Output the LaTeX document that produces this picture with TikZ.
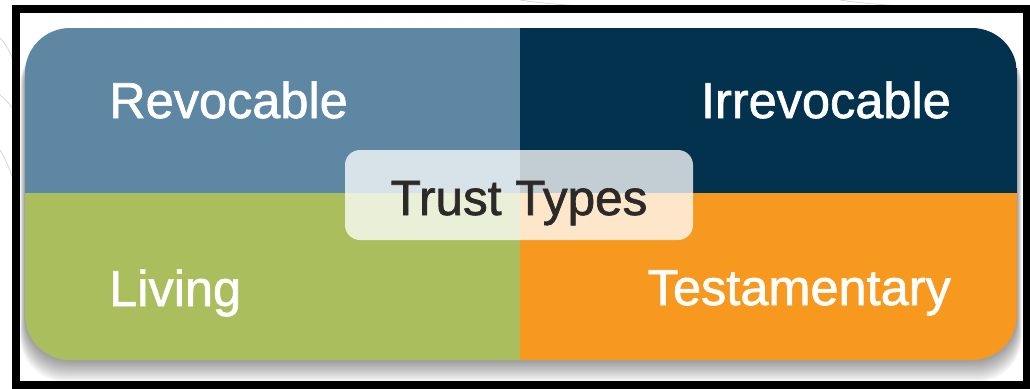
\documentclass[tikz,border=0pt]{standalone}
\usepackage{fontspec}
\setmainfont{Liberation Sans}
\newfontface\medface[FakeBold=1.3]{Liberation Sans}
\definecolor{tlblue}{HTML}{5E87A4}
\definecolor{trnavy}{HTML}{03324F}
\definecolor{blgreen}{HTML}{ABBE5D}
\definecolor{brorange}{HTML}{F7981F}
\definecolor{tdark}{HTML}{2B2A28}
\begin{document}
\begin{tikzpicture}[x=1pt,y=-1pt,
  quadlabel/.style={text=white,font=\medface\fontsize{50.5}{60}\selectfont,inner sep=0pt},
  swirl/.style={draw=gray!35,line width=0.7pt}]
\useasboundingbox (0,0) rectangle (1030,388);
\fill[white] (0,0) rectangle (1030,388);
% faint swirls outside the frame
\draw[swirl] (0,38) .. controls (6,44) and (10,52) .. (14,62);
\draw[swirl] (0,95) .. controls (6,100) and (10,104) .. (14,110);
\draw[swirl] (0,150) .. controls (6,160) and (10,170) .. (14,182);
\draw[swirl] (520,0) .. controls (540,3) and (560,5) .. (590,6);
\draw[swirl] (840,0) .. controls (860,3) and (880,5) .. (910,6);
% frame interior
\fill[white] (16,9) rectangle (1027,385);
% drop shadow
\foreach \i in {1,...,12}
  \fill[black,opacity=0.035,rounded corners=45pt] (25-\i*0.4,40) rectangle (1017+\i*0.4,360+\i*1.8);
% quadrants
\begin{scope}
  \clip[rounded corners=45pt] (25,28) rectangle (1017,360);
  \fill[tlblue] (25,28) rectangle (520,193);
  \fill[trnavy] (520,28) rectangle (1017,193);
  \fill[blgreen] (25,193) rectangle (520,360);
  \fill[brorange] (520,193) rectangle (1017,360);
\end{scope}
% labels
\node[quadlabel,anchor=base west] (rev) at (109,118) {Revocable};
\node[quadlabel,anchor=base east] (irr) at (951,118) {Irrevocable};
\node[quadlabel,anchor=base west] (liv) at (109,306) {Living};
\node[quadlabel,anchor=base east] (tes) at (951,305) {Testamentary};
% centre box
\fill[white,opacity=0.76,rounded corners=15pt] (345,150) rectangle (693,240);
\node[text=tdark,font=\medface\fontsize{49.5}{60}\selectfont,inner sep=0pt,anchor=base] (tt) at (519,215) {Trust Types};
% frame
\draw[black,line width=8pt] (16,9) rectangle (1027,385);
\end{tikzpicture}
\end{document}
